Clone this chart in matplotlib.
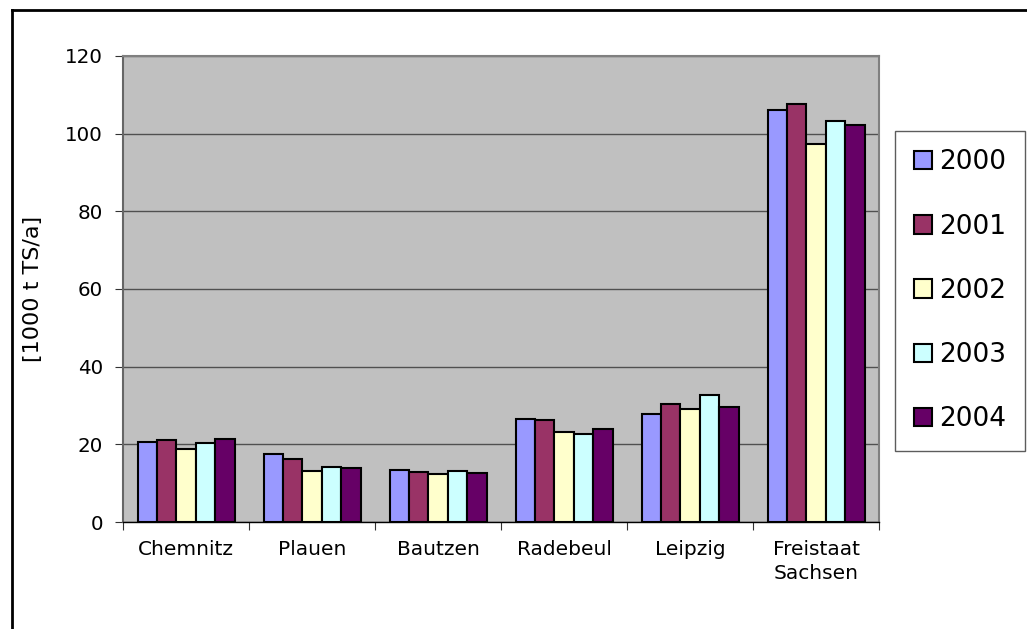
import numpy as np
import matplotlib.pyplot as plt
from matplotlib.lines import Line2D
from matplotlib.patches import Patch

regions = ['Chemnitz', 'Plauen', 'Bautzen', 'Radebeul', 'Leipzig', 'Freistaat\nSachsen']
years = ['2000', '2001', '2002', '2003', '2004']
colors = ['#9999FF', '#993366', '#FFFFCC', '#CCFFFF', '#660066']

# sewage sludge amount, 1000 t dry matter per year
v2000 = [20.5, 17.5, 13.3, 26.4, 27.8, 106.0]
v2001 = [21.1, 16.3, 13.0, 26.2, 30.5, 107.7]
v2002 = [18.9, 13.1, 12.3, 23.3, 29.2, 97.4]
v2003 = [20.4, 14.1, 13.2, 22.6, 32.6, 103.3]
v2004 = [21.4, 13.8, 12.7, 23.9, 29.7, 102.2]
series = [v2000, v2001, v2002, v2003, v2004]

fig = plt.figure(figsize=(10.27, 6.29), dpi=100)
ax = fig.add_axes([0.1198, 0.1701, 0.7361, 0.7409])
ax.set_facecolor('#C0C0C0')

x = np.arange(len(regions))
w = 0.154
for i, (vals, c) in enumerate(zip(series, colors)):
    ax.bar(x + (i - 2) * w, vals, w, color=c, edgecolor='black', linewidth=1.5,
           label=years[i], zorder=3)

ax.set_xlim(-0.5, len(regions) - 0.5)
ax.set_ylim(0, 120)
ax.set_yticks(range(0, 121, 20))
ax.yaxis.grid(True, color='#505050', linewidth=1, zorder=0)
ax.set_xticks(np.arange(-0.5, len(regions), 1))
ax.set_xticklabels([])
ax.set_xticks(x, minor=True)
ax.set_xticklabels(regions, minor=True, fontsize=14.5, linespacing=1.35)
ax.tick_params(axis='x', which='minor', length=0, pad=13)
ax.tick_params(axis='x', which='major', length=6, direction='out', color='#333333')
ax.tick_params(axis='y', length=6, direction='out', labelsize=14.3, pad=8.5, color='#333333')
ax.set_ylabel('[1000 t TS/a]', fontsize=16, labelpad=16)

for s in ['top', 'right']:
    ax.spines[s].set_color('#808080')
    ax.spines[s].set_linewidth(1.5)
ax.spines['left'].set_color('#666666')
ax.spines['left'].set_linewidth(1.5)
ax.spines['bottom'].set_color('black')
ax.spines['bottom'].set_linewidth(1)

handles = [Patch(facecolor=c, edgecolor='black', linewidth=1.5) for c in colors]
leg = fig.legend(handles, years, loc='upper left', bbox_to_anchor=(0.8715, 0.792),
                 fontsize=19, frameon=True, fancybox=False, borderpad=0.7,
                 labelspacing=1.45, handlelength=0.7, handleheight=0.7,
                 handletextpad=0.27, borderaxespad=0)
leg.get_frame().set_edgecolor('#333333')
leg.get_frame().set_linewidth(1)

# outer chart frame (left and top edges)
fig.add_artist(Line2D([0.0112, 0.0112], [0, 0.984], color='black', linewidth=2,
                      transform=fig.transFigure))
fig.add_artist(Line2D([0.0112, 1.0], [0.984, 0.984], color='black', linewidth=2,
                      transform=fig.transFigure))

fig.savefig('out.png', dpi=100, facecolor='white')
